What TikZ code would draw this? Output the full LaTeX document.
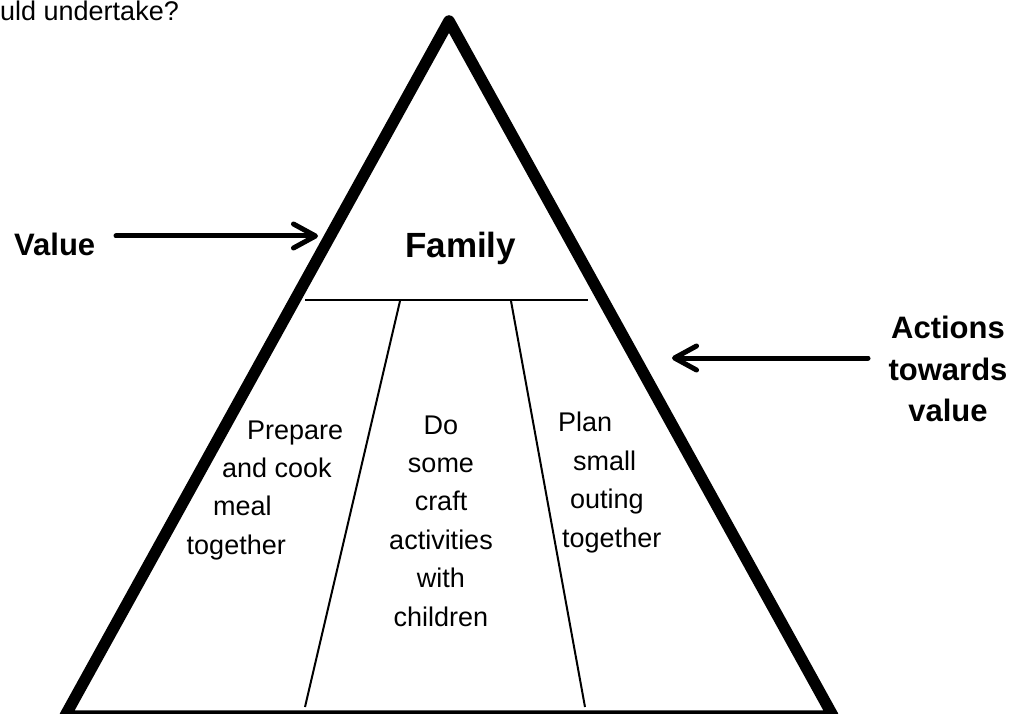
\documentclass[tikz,border=0pt]{standalone}
\usepackage{fontspec}
\setmainfont{Liberation Sans}
\usetikzlibrary{arrows.meta}
\begin{document}
\begin{tikzpicture}[x=1pt,y=-1pt,
  tri/.style={line width=11.5pt, line join=round},
  divider/.style={line width=2pt},
  arr/.style={line width=5pt, line cap=round,
    -{Straight Barb[length=22pt,width=24pt,line cap=round,line join=round]}},
  body/.style={anchor=base west, inner sep=0pt, font=\fontsize{27}{32}\selectfont},
  bodyc/.style={anchor=base, inner sep=0pt, font=\fontsize{27}{32}\selectfont},
  lbl/.style={anchor=base, inner sep=0pt, font=\fontsize{31}{36}\selectfont\bfseries},
]
\useasboundingbox (0,0) rectangle (1020,714);
% top fragment
\node[body] (q) at (0,21) {uld undertake?};
% triangle
\coordinate (apex) at (449,21);
\coordinate (bl) at (65,716);
\coordinate (br) at (833,716);
\draw[tri] (apex) -- (br) -- (bl) -- cycle;
% dividers
\coordinate (hl) at (305,300);
\coordinate (hr) at (588,300);
\draw[divider] (hl) -- (hr);
\coordinate (l1t) at (400,301);
\coordinate (l1b) at (305,707);
\coordinate (l2t) at (511,301);
\coordinate (l2b) at (585,707);
\draw[divider] (l1t) -- (l1b);
\draw[divider] (l2t) -- (l2b);
% labels
\node[lbl, anchor=base west] (value) at (14,255) {Value};
\node[anchor=base west, inner sep=0pt, font=\fontsize{35}{40}\selectfont\bfseries] (family) at (405,258) {Family};
\node[lbl] (act1) at (948,338) {Actions};
\node[lbl] (act2) at (948,380) {towards};
\node[lbl] (act3) at (948,421) {value};
% arrows
\coordinate (vs) at (116,236);
\coordinate (vt) at (318,236);
\draw[arr] (vs) -- (vt);
\coordinate (as) at (868,358);
\coordinate (at) at (672,358);
\draw[arr] (as) -- (at);
% left column
\node[body] (p1) at (247,439) {Prepare};
\node[body] (p2) at (222,477) {and cook};
\node[body] (p3) at (213,515) {meal};
\node[body, anchor=base east] (p4) at (286,554) {together};
% middle column
\node[bodyc] (m1) at (441,434) {Do};
\node[bodyc] (m2) at (441,472) {some};
\node[bodyc] (m3) at (441,510) {craft};
\node[bodyc] (m4) at (441,549) {activities};
\node[bodyc] (m5) at (441,587) {with};
\node[bodyc] (m6) at (441,626) {children};
% right column
\node[body] (r1) at (558,431) {Plan};
\node[body] (r2) at (573,470) {small};
\node[body] (r3) at (570,508) {outing};
\node[body] (r4) at (562,547) {together};
\end{tikzpicture}
\end{document}
